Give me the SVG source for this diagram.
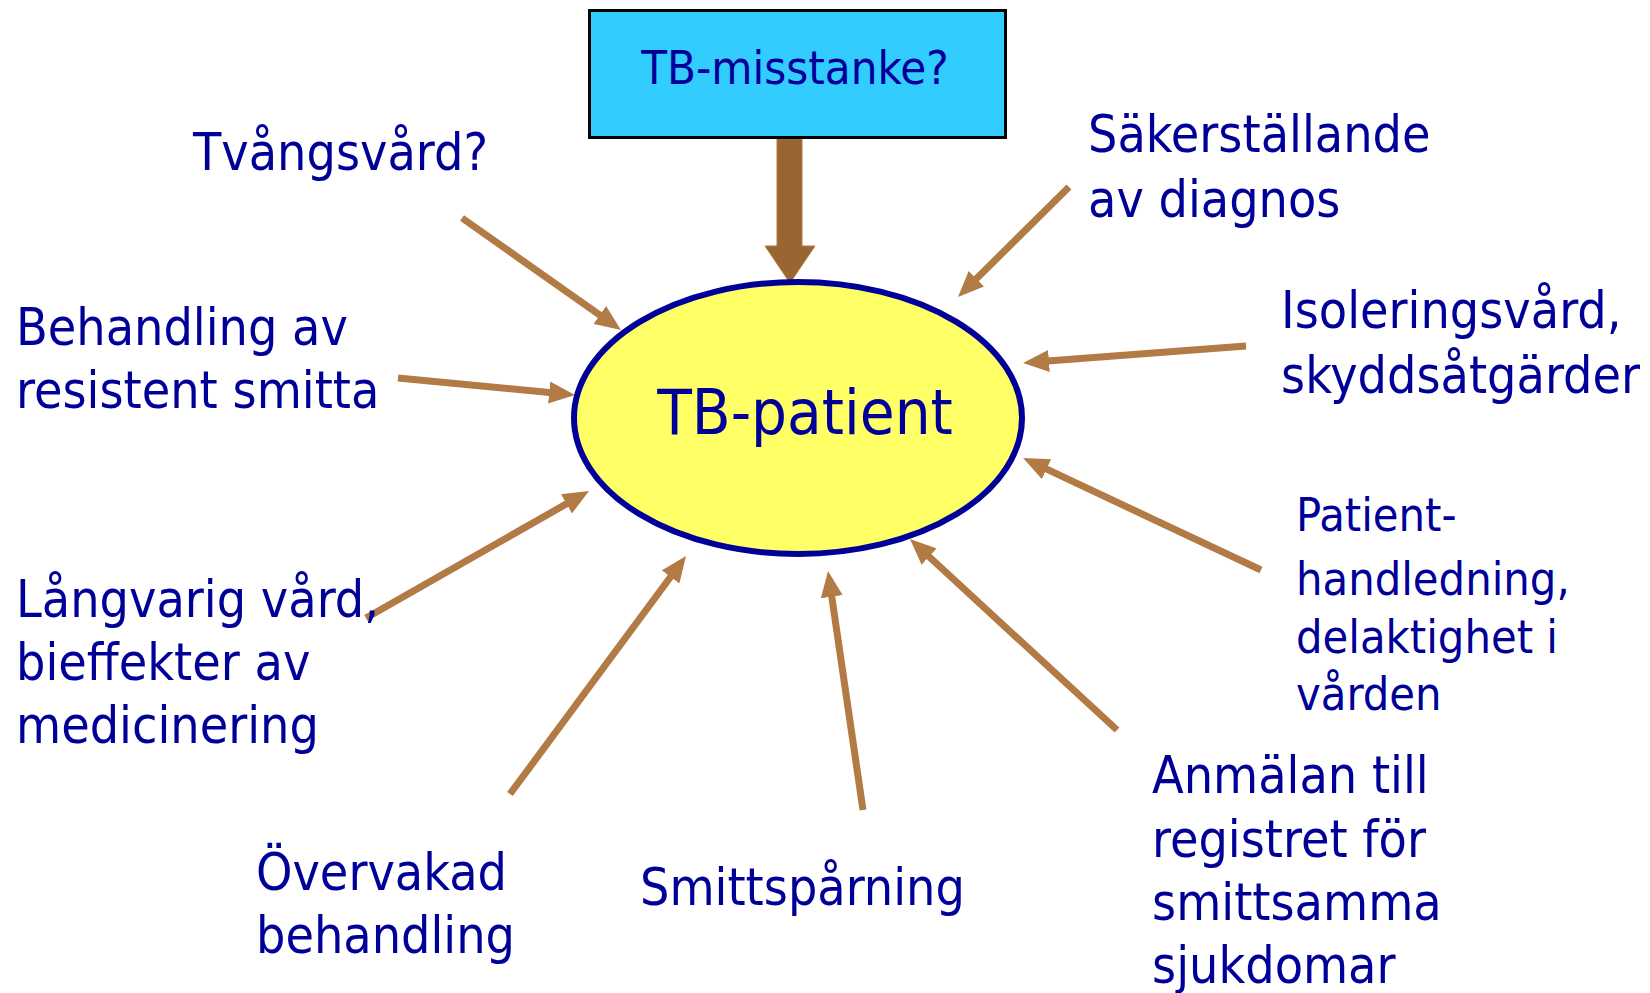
<svg xmlns="http://www.w3.org/2000/svg" width="1650" height="993" viewBox="0 0 1650 993">
<defs>
<style>
.lbl{font-family:"DejaVu Sans Condensed","DejaVu Sans",sans-serif;font-size:51.5px;fill:#000099;}
.sm{font-size:46.5px;}
.con{stroke:#B27A45;stroke-width:7;fill:none;marker-end:url(#ah);}
</style>
<marker id="ah" viewBox="0 0 26 22" refX="8" refY="11" markerWidth="26" markerHeight="22" markerUnits="userSpaceOnUse" orient="auto">
<path d="M0,0 L26,11 L0,22 Z" fill="#B27A45"/>
</marker>
</defs>
<rect width="1650" height="993" fill="#FFFFFF"/>
<g id="connectors">
<polygon points="777,139 802,139 802,246 815,246 790,283 765,246 777,246" fill="#996633" stroke="#B07A45" stroke-width="1"/>
<line class="con" x1="462" y1="218" x2="606.3" y2="319.6"/>
<line class="con" x1="398" y1="378" x2="557.1" y2="393.3"/>
<line class="con" x1="366" y1="618" x2="573.4" y2="499.9"/>
<line class="con" x1="510" y1="794" x2="675.3" y2="570.5"/>
<line class="con" x1="863" y1="810" x2="830.6" y2="588.8"/>
<line class="con" x1="1117" y1="730" x2="923.2" y2="551.2"/>
<line class="con" x1="1261" y1="570" x2="1039.3" y2="465.7"/>
<line class="con" x1="1246" y1="346" x2="1041" y2="361.6"/>
<line class="con" x1="1069" y1="187" x2="970.8" y2="284.3"/>
</g>
<g id="tb-misstanke">
<rect x="589.5" y="10.5" width="416" height="127" fill="#33CCFF" stroke="#000000" stroke-width="3"/>
<text class="lbl" x="795" y="84" text-anchor="middle" style="font-size:47px">TB-misstanke?</text>
</g>
<g id="tb-patient">
<ellipse cx="798" cy="418" rx="224" ry="136" fill="#FFFF66" stroke="#000099" stroke-width="6"/>
<text class="lbl" x="805" y="434" text-anchor="middle" style="font-size:63px">TB-patient</text>
</g>
<g id="tvangsvard"><text class="lbl" x="193" y="170">Tvångsvård?</text></g>
<g id="behandling-resistent"><text class="lbl" x="16" y="345">Behandling av</text><text class="lbl" x="16" y="408">resistent smitta</text></g>
<g id="langvarig-vard"><text class="lbl" x="16" y="617">Långvarig vård,</text><text class="lbl" x="16" y="680">bieffekter av</text><text class="lbl" x="16" y="743">medicinering</text></g>
<g id="overvakad"><text class="lbl" x="256" y="890">Övervakad</text><text class="lbl" x="256" y="953">behandling</text></g>
<g id="smittsparning"><text class="lbl" x="640" y="905">Smittspårning</text></g>
<g id="anmalan"><text class="lbl" x="1152" y="793">Anmälan till</text><text class="lbl" x="1152" y="857">registret för</text><text class="lbl" x="1152" y="920">smittsamma</text><text class="lbl" x="1152" y="983">sjukdomar</text></g>
<g id="patienthandledning"><text class="lbl sm" x="1296" y="531">Patient-</text><text class="lbl sm" x="1296" y="595">handledning,</text><text class="lbl sm" x="1296" y="653">delaktighet i</text><text class="lbl sm" x="1296" y="710">vården</text></g>
<g id="isoleringsvard"><text class="lbl" x="1281" y="328">Isoleringsvård,</text><text class="lbl" x="1281" y="393">skyddsåtgärder</text></g>
<g id="sakerstallande"><text class="lbl" x="1088" y="152">Säkerställande</text><text class="lbl" x="1088" y="217">av diagnos</text></g>
</svg>
